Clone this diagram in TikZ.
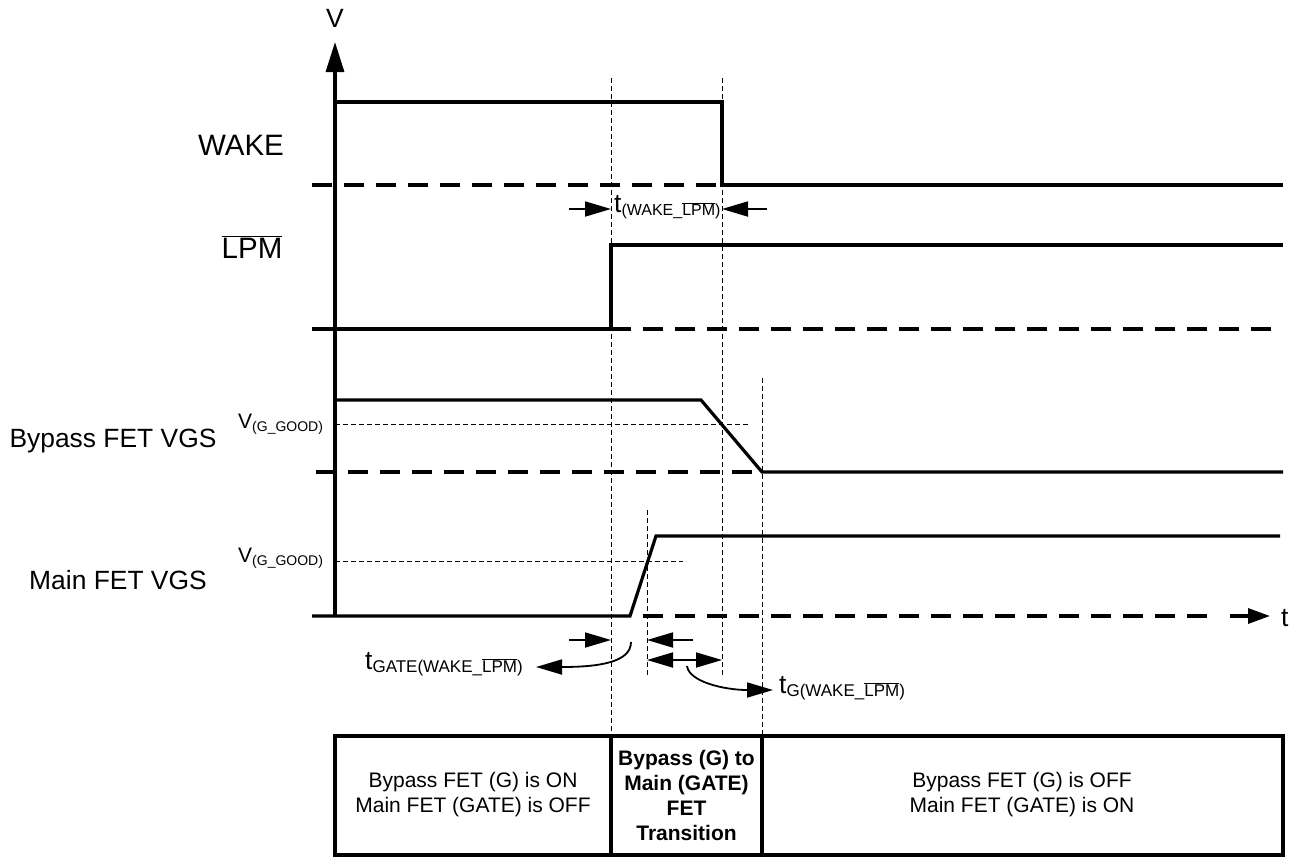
\documentclass[tikz,border=0pt]{standalone}
\usepackage{fontspec}
\setmainfont{Liberation Sans}
\usetikzlibrary{arrows.meta}
\newcommand{\ovl}[1]{\ensuremath{\overline{\mbox{#1}}}}
\newcommand{\bigf}{\fontsize{26.4}{30}\selectfont}
\newcommand{\sigf}{\fontsize{29.5}{34}\selectfont}
\newcommand{\subf}{\fontsize{16}{19}\selectfont}
\newcommand{\subg}{\fontsize{17}{20}\selectfont}
\newcommand{\cellf}{\fontsize{21}{25}\selectfont}
\begin{document}
\begin{tikzpicture}[x=1pt,y=-1pt,
  sig/.style={line width=3.2pt, line join=miter},
  basel/.style={line width=3.2pt, dash pattern=on 20pt off 12pt},
  guide/.style={line width=0.9pt, dash pattern=on 5pt off 3pt},
  tarr/.style={line width=1.8pt, -{Triangle[length=26pt,width=15pt]}},
  darr/.style={line width=1.8pt, {Triangle[length=26pt,width=15pt]}-{Triangle[length=26pt,width=15pt]}},
  lbl/.style={font=\bigf, inner sep=0pt},
  cell/.style={font=\cellf, align=center, inner sep=0pt},
  bcell/.style={font=\cellf\bfseries, align=center, inner sep=0pt}
]
\useasboundingbox (0,0) rectangle (1300,857);

% ---------- key coordinates ----------
\coordinate (ax0) at (335,616);
\coordinate (ax1) at (335,42);
\coordinate (tend) at (1270,616);
% WAKE
\coordinate (w0) at (335,102); \coordinate (w1) at (722,102);
\coordinate (w2) at (722,185); \coordinate (w3) at (1283,185);
\coordinate (wb) at (312,185);
% LPM
\coordinate (l0) at (312,329); \coordinate (l1) at (611,329);
\coordinate (l2) at (611,245); \coordinate (l3) at (1283,245);
\coordinate (lb) at (1283,329);
% Bypass
\coordinate (b0) at (335,400); \coordinate (b1) at (701,400);
\coordinate (b2) at (762,472); \coordinate (b3) at (1283,472);
\coordinate (bb) at (316,472);
\coordinate (bg0) at (335,424); \coordinate (bg1) at (750,424);
% Main
\coordinate (m0) at (312,616); \coordinate (m1) at (630,616);
\coordinate (m2) at (656,536); \coordinate (m3) at (1280,536);
\coordinate (ms) at (643,616); \coordinate (md) at (1218,616);
\coordinate (ma) at (1230,616);
\coordinate (mg0) at (335,561); \coordinate (mg1) at (683,561);
% guide lines
\coordinate (g1t) at (611,78);  \coordinate (g1b) at (611,736);
\coordinate (g2t) at (722,78);  \coordinate (g2b) at (722,677);
\coordinate (g3t) at (762,378); \coordinate (g3b) at (762,736);
\coordinate (g4t) at (647,510); \coordinate (g4b) at (647,677);
% timing arrows
\coordinate (a1s) at (569,209); \coordinate (a1e) at (611,209);
\coordinate (a2s) at (767,209); \coordinate (a2e) at (722,209);
\coordinate (a3s) at (569,640); \coordinate (a3e) at (611,640);
\coordinate (a4s) at (693,640); \coordinate (a4e) at (647,640);
\coordinate (a5s) at (647,660); \coordinate (a5e) at (722,660);
\coordinate (c1s) at (631,642); \coordinate (c1e) at (536,667);
\coordinate (c2s) at (687,666); \coordinate (c2e) at (773,690);
% table
\coordinate (tb0) at (335,736); \coordinate (tb1) at (1283,855);
\coordinate (d1t) at (611,736); \coordinate (d1b) at (611,855);
\coordinate (d2t) at (762,736); \coordinate (d2b) at (762,855);

% ---------- guide lines ----------
\draw[guide] (g1t) -- (g1b);
\draw[guide] (g2t) -- (g2b);
\draw[guide] (g3t) -- (g3b);
\draw[guide] (g4t) -- (g4b);
\draw[guide] (bg0) -- (bg1);
\draw[guide] (mg0) -- (mg1);

% ---------- axes ----------
\draw[sig, -{Triangle[length=30pt,width=18pt]}] (ax0) -- (ax1);
\draw[basel] (ms) -- (md);
\draw[sig, -{Triangle[length=22pt,width=15pt]}] (ma) -- (tend);

% ---------- signals ----------
\draw[basel] (wb) -- (w2);
\draw[sig] (w0) -- (w1) -- (w2) -- (w3);
\draw[sig] (l0) -- (l1) -- (l2) -- (l3);
\draw[basel] (l1) -- (lb);
\draw[basel] (bb) -- (b2);
\draw[sig] (b0) -- (b1) -- (b2) -- (b3);
\draw[sig] (m0) -- (m1) -- (m2) -- (m3);

% ---------- timing arrows ----------
\draw[tarr] (a1s) -- (a1e);
\draw[tarr] (a2s) -- (a2e);
\draw[tarr] (a3s) -- (a3e);
\draw[tarr] (a4s) -- (a4e);
\draw[darr] (a5s) -- (a5e);
\draw[tarr] (c1s) .. controls (631,662) and (600,667) .. (c1e);
\draw[tarr] (c2s) .. controls (689,682) and (725,690) .. (c2e);

% ---------- labels ----------
\node[lbl] (lv) at (335,18) {V};
\node[lbl, anchor=west] (lt) at (1281,618) {t};
\node[lbl, font=\sigf] (lwake) at (241,145) {WAKE};
\node[lbl, font=\sigf] (llpm) at (252,247) {\ovl{LPM}};
\node[lbl] (lbyp) at (113,441) {Bypass FET VGS};
\node[lbl] (lmain) at (118,580) {Main FET VGS};
\node[lbl, anchor=west, font=\fontsize{21}{25}\selectfont] (lvg1) at (238,424)
  {V\raisebox{-3pt}{\fontsize{14}{17}\selectfont(G\_GOOD)}};
\node[lbl, anchor=west, font=\fontsize{21}{25}\selectfont] (lvg2) at (238,558)
  {V\raisebox{-3pt}{\fontsize{14}{17}\selectfont(G\_GOOD)}};
\node[lbl, anchor=west] (ltw) at (614,207)
  {t\raisebox{-3pt}{\subf(WAKE\_\ovl{LPM})}};
\node[lbl, anchor=west] (ltg) at (365,664)
  {t\raisebox{-3pt}{\subg GATE(WAKE\_\ovl{LPM})}};
\node[lbl, anchor=west] (ltgg) at (779,688)
  {t\raisebox{-3pt}{\subg G(WAKE\_\ovl{LPM})}};

% ---------- table ----------
\draw[sig] (tb0) rectangle (tb1);
\draw[sig] (d1t) -- (d1b);
\draw[sig] (d2t) -- (d2b);
\node[cell] (cL) at (473,795) {Bypass FET (G) is ON\\Main FET (GATE) is OFF};
\node[bcell] (cM) at (686.5,795) {Bypass (G) to\\Main (GATE)\\FET\\Transition};
\node[cell] (cR) at (1022,795) {Bypass FET (G) is OFF\\Main FET (GATE) is ON};
\end{tikzpicture}
\end{document}
